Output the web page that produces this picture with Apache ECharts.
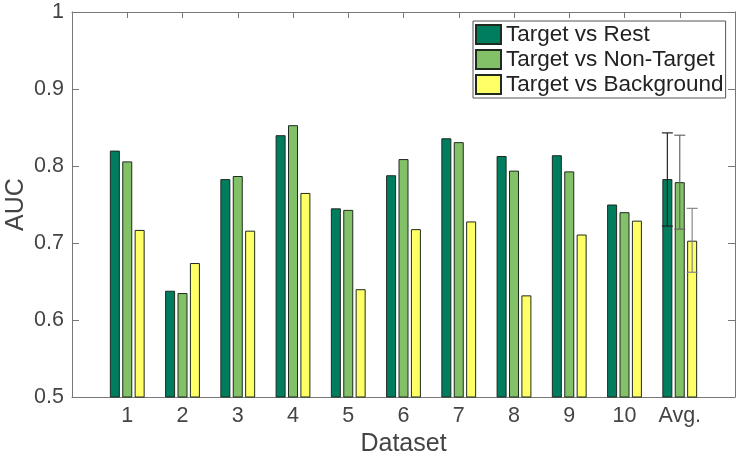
<!DOCTYPE html>
<html>
<head>
<meta charset="utf-8">
<script src="https://cdn.jsdelivr.net/npm/echarts@6/dist/echarts.min.js"></script>
<style>html,body{margin:0;padding:0;background:#fff}#c{width:737px;height:454px}</style>
</head>
<body>
<div id="c"></div>
<script>
var categories = ['1','2','3','4','5','6','7','8','9','10','Avg.'];
var seriesNames = ['Target vs Rest','Target vs Non-Target','Target vs Background'];
var rest = [0.820,0.638,0.783,0.840,0.745,0.788,0.836,0.813,0.814,0.750,0.783];
var nonTarget = [0.806,0.635,0.787,0.853,0.743,0.809,0.831,0.794,0.793,0.740,0.779];
var background = [0.717,0.674,0.716,0.765,0.640,0.718,0.728,0.632,0.711,0.729,0.703];
var avgErrLow = [0.722,0.718,0.662];
var avgErrHigh = [0.843,0.840,0.745];
var yTicks = [0.5,0.6,0.7,0.8,0.9,1];

var colors = ['#007d5f','#82c168','#ffff66'];
var errColors = ['#222','#666','#888'];
var BAR_W = 10, BAR_GAP = 2.4;

var axisCats = [''].concat(categories, ['']);
function pad(arr){ return [null].concat(arr, [null]); }

var font = 'Liberation Sans, Arial, Helvetica, sans-serif';
var chart = echarts.init(document.getElementById('c'));

var barSeries = [rest, nonTarget, background].map(function(d, i){
  return {
    name: seriesNames[i], type: 'bar', data: pad(d),
    barWidth: BAR_W, barGap: (BAR_GAP / BAR_W * 100) + '%',
    itemStyle: {color: colors[i], borderColor: '#1e2b1e', borderWidth: 1},
    emphasis: {disabled: true}, animation: false
  };
});

var avgIndex = axisCats.length - 2;
var errData = [0,1,2].map(function(i){ return [avgIndex, avgErrLow[i], avgErrHigh[i], i]; });

var errSeries = {
  type: 'custom', z: 10, animation: false, silent: true,
  data: errData,
  renderItem: function(params, api){
    var k = api.value(3);
    var off = (k - 1) * (BAR_W + BAR_GAP);
    var lo = api.coord([api.value(0), api.value(1)]);
    var hi = api.coord([api.value(0), api.value(2)]);
    var x = lo[0] + off, h = BAR_W / 2 + 0.5;
    var st = {stroke: errColors[k], lineWidth: 1.2};
    return {type: 'group', children: [
      {type: 'line', shape: {x1: x, y1: lo[1], x2: x, y2: hi[1]}, style: st},
      {type: 'line', shape: {x1: x - h, y1: lo[1], x2: x + h, y2: lo[1]}, style: st},
      {type: 'line', shape: {x1: x - h, y1: hi[1], x2: x + h, y2: hi[1]}, style: st}
    ]};
  }
};

var axisLineStyle = {lineStyle: {color: '#777', width: 1}};
chart.setOption({
  backgroundColor: '#fff',
  animation: false,
  grid: {left: 72, right: 2, top: 12, bottom: 57, containLabel: false, outerBoundsMode: 'none'},
  legend: {
    orient: 'vertical', left: 473, top: 21,
    data: seriesNames,
    itemWidth: 25, itemHeight: 19, itemGap: 2,
    padding: [2, 2, 2, 2],
    borderColor: '#555', borderWidth: 1, backgroundColor: '#fff',
    textStyle: {fontFamily: font, fontSize: 22.5, color: '#222', lineHeight: 22},
    icon: 'rect', selectedMode: false
  },
  xAxis: [{
    type: 'category', data: axisCats, boundaryGap: false,
    name: 'Dataset', nameLocation: 'middle', nameGap: 35, nameMoveOverlap: false,
    nameTextStyle: {fontFamily: font, fontSize: 25, color: '#444'},
    axisLine: axisLineStyle,
    axisTick: {inside: true, length: 6, lineStyle: {color: '#777'}},
    axisLabel: {fontFamily: font, fontSize: 21.5, color: '#444', margin: 8, interval: 0}
  }, {
    type: 'category', data: axisCats, boundaryGap: false, position: 'top',
    axisLine: axisLineStyle,
    axisTick: {inside: true, length: 6, lineStyle: {color: '#777'}},
    axisLabel: {show: false}
  }],
  yAxis: [{
    type: 'value', min: yTicks[0], max: yTicks[yTicks.length - 1], interval: 0.1,
    name: 'AUC', nameLocation: 'middle', nameGap: 43, nameMoveOverlap: false,
    nameTextStyle: {fontFamily: font, fontSize: 25, color: '#444'},
    axisLine: {show: true, lineStyle: {color: '#777', width: 1}},
    axisTick: {show: true, inside: true, length: 7, lineStyle: {color: '#777'}},
    axisLabel: {fontFamily: font, fontSize: 21.5, color: '#444', margin: 8,
      formatter: function(v){ return v === 1 ? '1' : v.toFixed(1); }},
    splitLine: {show: false}
  }, {
    type: 'value', min: yTicks[0], max: yTicks[yTicks.length - 1], interval: 0.1, position: 'right',
    axisLine: {show: true, lineStyle: {color: '#777', width: 1}},
    axisTick: {show: true, inside: true, length: 7, lineStyle: {color: '#777'}},
    axisLabel: {show: false}, splitLine: {show: false}
  }],
  series: barSeries.concat([errSeries])
});
</script>
</body>
</html>
